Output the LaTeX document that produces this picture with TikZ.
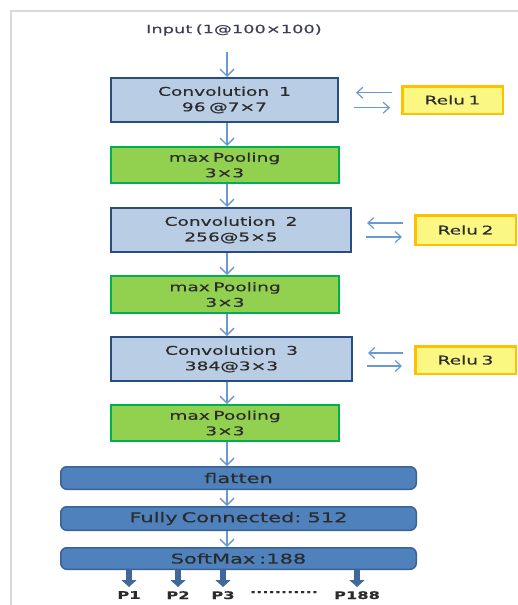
\documentclass[tikz,border=0pt]{standalone}
\usepackage{fontspec}
\setmainfont[FakeStretch=1.55, FakeBold=0.4, WordSpace=0.6]{DejaVu Sans}
\usetikzlibrary{arrows.meta}

\definecolor{convfill}{HTML}{B9CDE5}
\definecolor{convline}{HTML}{2A4D7E}
\definecolor{poolfill}{HTML}{92D050}
\definecolor{poolline}{HTML}{00B050}
\definecolor{densefill}{HTML}{4F81BD}
\definecolor{denseline}{HTML}{3A6393}
\definecolor{relufill}{HTML}{FAF883}
\definecolor{reluline}{HTML}{FFC000}
\definecolor{flowline}{HTML}{6A98D0}
\definecolor{outblue}{HTML}{41689A}
\definecolor{ink}{HTML}{2B2B2B}
\definecolor{inputink}{HTML}{3C3C58}
\definecolor{framegray}{HTML}{D9D9D9}

\begin{document}
\begin{tikzpicture}[x=1pt, y=-1pt,
  every node/.style={font=\fontsize{12}{15.5}\selectfont, text=ink, align=center, inner sep=0pt},
  conv/.style={draw=convline, fill=convfill, line width=2.2pt, minimum height=43.8pt},
  pool/.style={draw=poolline, fill=poolfill, line width=2pt, minimum width=228pt},
  dense/.style={draw=denseline, fill=densefill, line width=1.5pt, rounded corners=6pt,
                minimum width=355.5pt, font=\fontsize{13.5}{16}\selectfont},
  relu/.style={draw=reluline, fill=relufill, line width=2.5pt, minimum width=100.5pt},
  flow/.style={draw=flowline, line width=1.3pt, -{Straight Barb[length=7pt,width=14pt]}},
  sideflow/.style={draw=flowline, line width=1.2pt, -{Straight Barb[length=6pt,width=11pt]}},
  outarrow/.style={draw=outblue, line width=6pt, -{Triangle[width=15pt,length=7pt]}},
  plabel/.style={font=\fontsize{10.5}{12}\selectfont\bfseries, text=ink, anchor=north}
]
\useasboundingbox (0,0) rectangle (518,605);

% page frame
\draw[framegray, line width=1.5pt] (11,605) -- (11,11) -- (518,11);

% vertical axis of the flow arrows
\coordinate (spine) at (227,0);

% input label
\node[text=inputink, font=\fontsize{11.5}{14}\selectfont] (input) at (234,30) {Input (1@100×100)};

% feature extraction stack
\node[conv, minimum width=226.8pt] (c1) at (224.5,100) {Convolution\hspace{10pt}1\\96 @7×7};
\node[pool, minimum height=36pt] (p1) at (224.5,165) {max Pooling\\3×3};
\node[conv, minimum width=239.8pt] (c2) at (231,230) {Convolution\hspace{10pt}2\\256@5×5};
\node[pool, minimum height=37pt] (p2) at (225,294.5) {max Pooling\\3×3};
\node[conv, minimum width=240.8pt] (c3) at (231.5,359) {Convolution\hspace{10pt}3\\384@3×3};
\node[pool, minimum height=36pt] (p3) at (225,423) {max Pooling\\3×3};

% classifier
\node[dense, minimum height=22.5pt] (flat) at (238.5,478) {flatten};
\node[dense, minimum height=23.5pt] (fc) at (238.5,518.5) {Fully Connected: 512};
\node[dense, minimum height=21.5pt] (soft) at (238.5,558.5) {SoftMax :188};

% activations
\node[relu, minimum height=27.5pt] (r1) at (452.5,100) {Relu 1};
\node[relu, minimum height=29.5pt] (r2) at (465.5,230) {Relu 2};
\node[relu, minimum height=27.5pt] (r3) at (465.5,360) {Relu 3};

% outputs
\node[plabel] (o1) at (129,591) {P1};
\node[plabel] (o2) at (178,591) {P2};
\node[plabel] (o3) at (223,591) {P3};
\node[plabel] (dots) at (284,591) {...........};
\node[plabel] (o4) at (357,591) {P188};

% main flow
\draw[flow, shorten <=16pt] (input.south -| spine) -- (c1.north -| spine);
\draw[flow] (c1.south -| spine) -- (p1.north -| spine);
\draw[flow] (p1.south -| spine) -- (c2.north -| spine);
\draw[flow] (c2.south -| spine) -- (p2.north -| spine);
\draw[flow] (p2.south -| spine) -- (c3.north -| spine);
\draw[flow] (c3.south -| spine) -- (p3.north -| spine);
\draw[flow] (p3.south -| spine) -- (flat.north -| spine);
\draw[flow] (flat.south -| spine) -- (fc.north -| spine);
\draw[flow] (fc.south -| spine) -- (soft.north -| spine);

% activation exchange
\draw[sideflow, shorten <=9pt, shorten >=17pt] ([yshift=7.3pt]r1.west) -- ([yshift=7.3pt]r1.west -| c1.east);
\draw[sideflow, shorten <=15pt, shorten >=11pt] ([yshift=-7.7pt]c1.east) -- ([yshift=-7.7pt]c1.east -| r1.west);
\draw[sideflow, shorten <=11pt, shorten >=15pt] ([yshift=7pt]r2.west) -- ([yshift=7pt]r2.west -| c2.east);
\draw[sideflow, shorten <=14pt, shorten >=12pt] ([yshift=-7pt]c2.east) -- ([yshift=-7pt]c2.east -| r2.west);
\draw[sideflow, shorten <=11pt, shorten >=15pt] ([yshift=7pt]r3.west) -- ([yshift=7pt]r3.west -| c3.east);
\draw[sideflow, shorten <=14pt, shorten >=12pt] ([yshift=-7pt]c3.east) -- ([yshift=-7pt]c3.east -| r3.west);

% class probabilities
\foreach \o in {o1,o2,o3,o4}
  \draw[outarrow, shorten >=4pt] (soft.south -| \o.north) -- (\o.north);
\end{tikzpicture}
\end{document}
